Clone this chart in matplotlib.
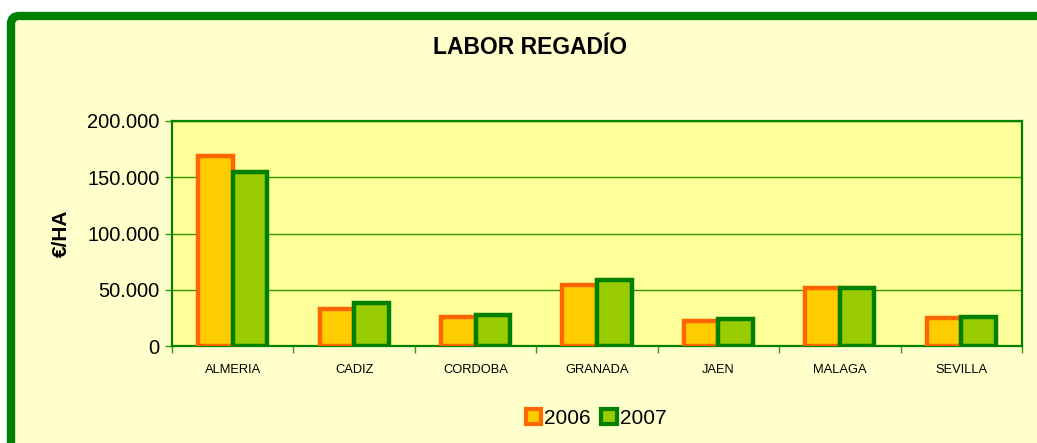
import matplotlib.pyplot as plt
from matplotlib.patches import FancyBboxPatch, Patch
from matplotlib.ticker import FuncFormatter, MultipleLocator
import numpy as np

plt.rcParams['font.family'] = ['Liberation Sans', 'DejaVu Sans']

provincias = ['ALMERIA', 'CADIZ', 'CORDOBA', 'GRANADA', 'JAEN', 'MALAGA', 'SEVILLA']
valores_2006 = [169000, 32500, 25500, 54000, 22000, 51500, 24800]
valores_2007 = [154500, 37800, 27500, 58300, 23800, 51500, 26200]
anios = ['2006', '2007']

fig = plt.figure(figsize=(10.37, 4.43), dpi=100, facecolor='white')

# marco exterior verde redondeado
marco = FancyBboxPatch((0.11, -0.5), 11.0, 4.43 - 0.16 + 0.5,
                       boxstyle='round,pad=0,rounding_size=0.08',
                       transform=fig.dpi_scale_trans,
                       facecolor='#FFFFCC', edgecolor='#008000', linewidth=6,
                       zorder=-5)
fig.patches.append(marco)

ax = fig.add_axes([172 / 1037, 97 / 443, 850 / 1037, 225 / 443])
ax.set_facecolor('#FFFF99')

x = np.arange(len(provincias))
w = 0.285
ax.bar(x - w / 2, valores_2006, w, color='#FFCC00', edgecolor='#FF6600',
       linewidth=3.2, zorder=3)
ax.bar(x + w / 2, valores_2007, w, color='#99CC00', edgecolor='#008000',
       linewidth=3.2, zorder=4)

ax.set_xlim(-0.5, len(provincias) - 0.5)
ax.set_ylim(0, 200000)
ax.yaxis.set_major_locator(MultipleLocator(50000))
ax.yaxis.set_major_formatter(FuncFormatter(lambda v, p: f'{int(v):,}'.replace(',', '.')))
ax.grid(axis='y', color='#339900', linewidth=1, zorder=1)
ax.set_axisbelow(True)

ax.set_xticks(x)
ax.set_xticklabels(provincias, fontsize=9.3)
ax.set_xticks(np.arange(-0.5, len(provincias)), minor=True)
ax.tick_params(axis='x', which='major', length=0, pad=13)
ax.tick_params(axis='x', which='minor', length=5, color='#339900', width=1)
ax.tick_params(axis='y', length=5, color='#339900', width=1, labelsize=14.5, pad=4)

for s in ax.spines.values():
    s.set_color('#008000')
    s.set_linewidth(1.6)

ax.set_ylabel('€/HA', fontsize=15, fontweight='bold', labelpad=12)
fig.text(0.511, 0.893, 'LABOR REGADÍO', fontsize=16.5, fontweight='bold',
         ha='center', va='center')

handles = [Patch(facecolor='#FFCC00', edgecolor='#FF6600', linewidth=3),
           Patch(facecolor='#99CC00', edgecolor='#008000', linewidth=3)]
fig.legend(handles, anios, loc='center', bbox_to_anchor=(0.575, 0.055),
           ncol=2, frameon=False, fontsize=15, handlelength=0.75,
           handleheight=0.75, handletextpad=0.15, columnspacing=0.5)

fig.savefig('out.png', dpi=100, facecolor='white')
